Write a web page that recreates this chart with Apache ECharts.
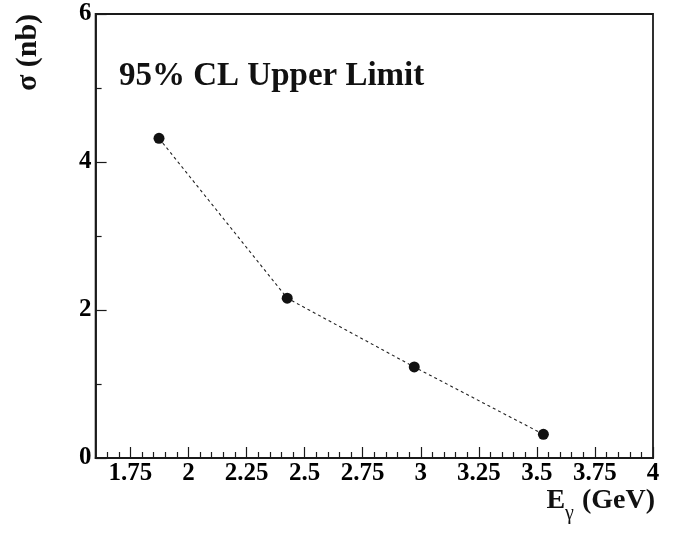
<!DOCTYPE html>
<html>
<head>
<meta charset="utf-8">
<script src="https://cdn.jsdelivr.net/npm/echarts@6/dist/echarts.min.js"></script>
<style>
  html, body { margin: 0; padding: 0; background: #fff; }
  #chart { width: 681px; height: 533px; }
</style>
</head>
<body>
<div id="chart"></div>
<script>
// Photon energy bins (GeV) and 95% CL upper limits on the cross section (nb)
const energies = [1.873, 2.425, 2.972, 3.528];
const sigmaLimits = [4.32, 2.16, 1.23, 0.32];

// Axis ticks
const xMajorTicks = [1.75, 2, 2.25, 2.5, 2.75, 3, 3.25, 3.5, 3.75, 4];
const xMinorTicks = [1.65, 1.7, 1.8, 1.85, 1.9, 1.95, 2.05, 2.1, 2.15, 2.2,
  2.3, 2.35, 2.4, 2.45, 2.55, 2.6, 2.65, 2.7, 2.8, 2.85, 2.9, 2.95,
  3.05, 3.1, 3.15, 3.2, 3.3, 3.35, 3.4, 3.45, 3.55, 3.6, 3.65, 3.7,
  3.8, 3.85, 3.9, 3.95];
const yMajorTicks = [0, 2, 4, 6];
const yMinorTicks = [1, 3, 5];

const FONT = '"Liberation Serif", "DejaVu Serif", serif';

const chart = echarts.init(document.getElementById('chart'), null, { renderer: 'canvas' });

const tickLabel = {
  fontFamily: FONT, fontWeight: 'bold', fontSize: 25, color: '#000'
};

chart.setOption({
  animation: false,
  backgroundColor: '#fff',
  grid: {
    left: 95.6, right: 28, top: 14, bottom: 75,
    show: true, borderColor: '#1a1a1a', borderWidth: 1.8, backgroundColor: 'transparent'
  },
  xAxis: [
    {
      type: 'value', min: 1.6, max: 4, position: 'bottom',
      axisLine: { show: true, lineStyle: { color: '#1a1a1a', width: 1.8 } },
      axisTick: { show: true, inside: true, length: 11, customValues: xMajorTicks,
        lineStyle: { color: '#1a1a1a', width: 1.2 } },
      axisLabel: { show: true, margin: 3, customValues: xMajorTicks, ...tickLabel,
        formatter: v => String(+v.toFixed(2)) },
      splitLine: { show: false }
    },
    {
      type: 'value', min: 1.6, max: 4, position: 'bottom',
      axisLine: { show: false },
      axisTick: { show: true, inside: true, length: 6, customValues: xMinorTicks,
        lineStyle: { color: '#1a1a1a', width: 1.2 } },
      axisLabel: { show: false },
      splitLine: { show: false }
    }
  ],
  yAxis: [
    {
      type: 'value', min: 0, max: 6, position: 'left',
      axisLine: { show: true, lineStyle: { color: '#1a1a1a', width: 1.8 } },
      axisTick: { show: true, inside: true, length: 11, customValues: yMajorTicks,
        lineStyle: { color: '#1a1a1a', width: 1.2 } },
      axisLabel: { show: true, margin: 4, customValues: yMajorTicks, ...tickLabel },
      splitLine: { show: false }
    },
    {
      type: 'value', min: 0, max: 6, position: 'left',
      axisLine: { show: false },
      axisTick: { show: true, inside: true, length: 6, customValues: yMinorTicks,
        lineStyle: { color: '#1a1a1a', width: 1.2 } },
      axisLabel: { show: false },
      splitLine: { show: false }
    }
  ],
  series: [
    {
      type: 'line',
      data: energies.map((e, i) => [e, sigmaLimits[i]]),
      symbol: 'circle',
      symbolSize: 11,
      itemStyle: { color: '#111' },
      lineStyle: { color: '#222', width: 1.1, type: [3, 3] }
    }
  ],
  graphic: [
    {
      type: 'text', left: 119, top: 60,
      style: { text: '95% CL Upper Limit', fontFamily: FONT, fontWeight: 'bold',
        fontSize: 33, fill: '#111' }
    },
    {
      type: 'text', x: 28.5, y: 52.5, rotation: Math.PI / 2,
      style: { text: 'σ (nb)', fontFamily: FONT, fontWeight: 'bold', fontSize: 30,
        fill: '#111', align: 'center', verticalAlign: 'middle' }
    },
    {
      type: 'text', right: 26, top: 487,
      style: {
        text: '{e|E}{g|γ}{e| (GeV)}',
        rich: {
          e: { fontFamily: FONT, fontWeight: 'bold', fontSize: 28, fill: '#111',
            verticalAlign: 'bottom' },
          g: { fontFamily: FONT, fontWeight: 'normal', fontSize: 20, fill: '#111',
            verticalAlign: 'bottom', padding: [0, 1, -9, 0] }
        }
      }
    }
  ]
});
</script>
</body>
</html>
